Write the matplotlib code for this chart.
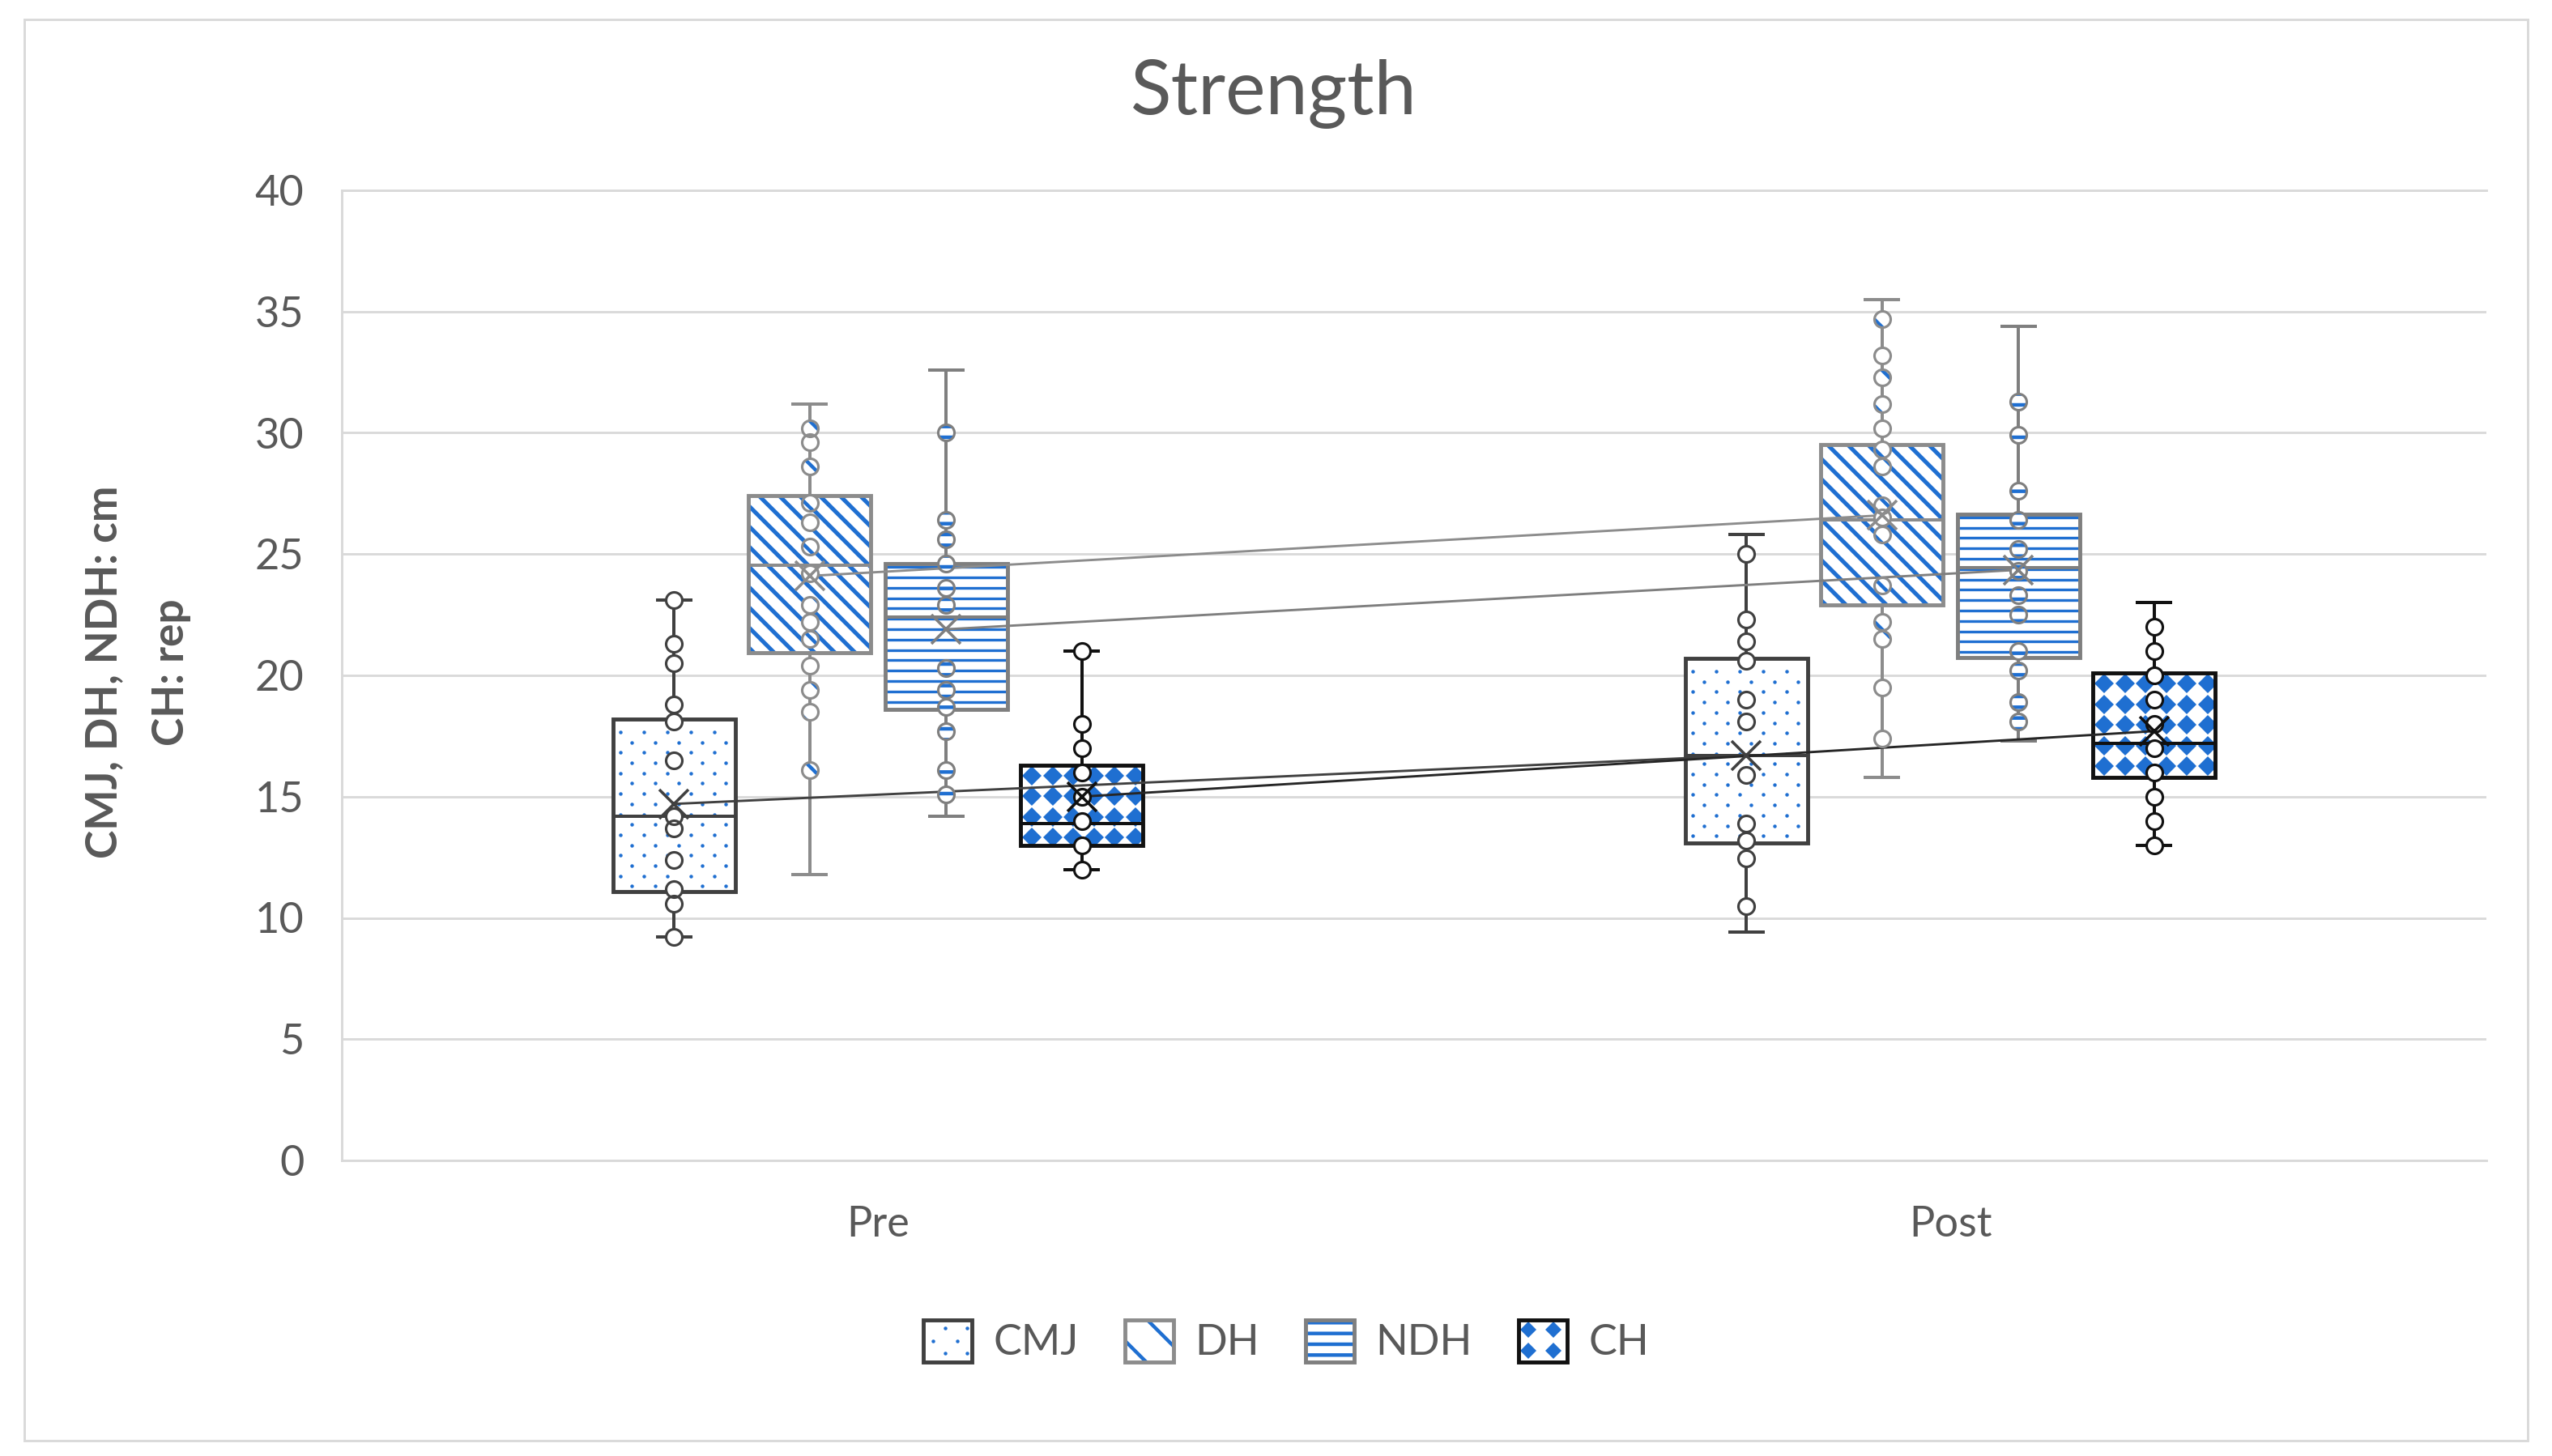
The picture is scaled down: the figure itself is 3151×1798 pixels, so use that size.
import numpy as np
import matplotlib
matplotlib.use("Agg")
import matplotlib.pyplot as plt
from matplotlib.patches import PathPatch, Rectangle, Patch
from matplotlib.lines import Line2D
from matplotlib.collections import LineCollection
from matplotlib.legend_handler import HandlerBase

plt.rcParams['font.family'] = ['Lato', 'DejaVu Sans']
plt.rcParams['hatch.linewidth'] = 2.0

# ---------------- data ----------------
categories = ['Pre', 'Post']
series_names = ['CMJ', 'DH', 'NDH', 'CH']

# box statistics, [Pre, Post]
cmj_whislo = [9.2, 9.4]
cmj_q1 = [11.1, 13.1]
cmj_med = [14.2, 16.7]
cmj_q3 = [18.2, 20.7]
cmj_whishi = [23.1, 25.8]
cmj_mean = [14.7, 16.7]

dh_whislo = [11.8, 15.8]
dh_q1 = [20.95, 22.9]
dh_med = [24.55, 26.4]
dh_q3 = [27.4, 29.5]
dh_whishi = [31.2, 35.5]
dh_mean = [24.1, 26.6]

ndh_whislo = [14.2, 17.3]
ndh_q1 = [18.6, 20.75]
ndh_med = [22.4, 24.45]
ndh_q3 = [24.6, 26.65]
ndh_whishi = [32.6, 34.4]
ndh_mean = [21.9, 24.35]

ch_whislo = [12.0, 13.0]
ch_q1 = [13.0, 15.8]
ch_med = [13.9, 17.2]
ch_q3 = [16.3, 20.1]
ch_whishi = [21.0, 23.0]
ch_mean = [15.0, 17.7]

# individual points (inner points)
cmj_pre_points = [23.1, 21.3, 20.5, 18.8, 18.1, 16.5, 14.2, 13.7, 12.4, 11.2, 10.6, 9.2]
cmj_post_points = [25.0, 22.3, 21.4, 20.6, 19.0, 18.1, 15.9, 13.9, 13.2, 12.45, 10.5]
dh_pre_points = [30.2, 29.6, 28.6, 27.1, 26.3, 25.3, 24.2, 22.9, 22.2, 21.5, 20.4, 19.4, 18.5, 16.1]
dh_post_points = [34.7, 33.2, 32.3, 31.2, 30.2, 29.3, 28.6, 27.0, 26.5, 25.8, 23.7, 22.2, 21.5, 19.5, 17.4]
ndh_pre_points = [30.0, 26.4, 25.6, 24.6, 23.6, 22.9, 20.3, 19.4, 18.7, 17.7, 16.1, 15.1]
ndh_post_points = [31.3, 29.9, 27.6, 26.4, 25.2, 24.3, 23.3, 22.5, 21.0, 20.2, 18.9, 18.1]
ch_pre_points = [21, 18, 17, 16, 15, 14, 13, 12]
ch_post_points = [22, 21, 20, 19, 18, 17, 16, 15, 14, 13]

yticks = [0, 5, 10, 15, 20, 25, 30, 35, 40]

SERIES = {
    'CMJ': dict(stats=(cmj_whislo, cmj_q1, cmj_med, cmj_q3, cmj_whishi, cmj_mean),
                points=(cmj_pre_points, cmj_post_points)),
    'DH': dict(stats=(dh_whislo, dh_q1, dh_med, dh_q3, dh_whishi, dh_mean),
               points=(dh_pre_points, dh_post_points)),
    'NDH': dict(stats=(ndh_whislo, ndh_q1, ndh_med, ndh_q3, ndh_whishi, ndh_mean),
                points=(ndh_pre_points, ndh_post_points)),
    'CH': dict(stats=(ch_whislo, ch_q1, ch_med, ch_q3, ch_whishi, ch_mean),
               points=(ch_pre_points, ch_post_points)),
}

# ---------------- style ----------------
BLUE = '#1F6FD1'
TXT = '#595959'
GRID = '#D9D9D9'
STYLE = {
    'CMJ': dict(edge='#404040', line='#404040', phatch=None,
                mtex=dict(dx=29, dy=12.7, stagger=True, marker='o', ms=2.0, xph=9, yph=16)),
    'DH': dict(edge='#8C8C8C', line='#8C8C8C', phatch='\\',
               ltex=dict(kind='d', spacing=25, lw=2.3, phase=6)),
    'NDH': dict(edge='#7F7F7F', line='#7F7F7F', phatch='--',
                ltex=dict(kind='h', spacing=12.8, lw=1.5, phase=4)),
    'CH': dict(edge='#111111', line='#262626', phatch=None,
               mtex=dict(dx=25.5, dy=25.5, stagger=False, marker='D', ms=7.6, xph=14, yph=13)),
}
OFFSETS = [-0.19, -0.0635, 0.0635, 0.19]
BOXW = 0.114
CAPW = 0.031
PT_MS = 9.0

DPI = 160
W_PX, H_PX = 3151, 1798
fig = plt.figure(figsize=(W_PX / DPI, H_PX / DPI), dpi=DPI)
L, R, T, Bt = 422, 3070, 235, 1433
ax = fig.add_axes([L / W_PX, 1 - Bt / H_PX, (R - L) / W_PX, (Bt - T) / H_PX])
ax.set_xlim(0.5, 2.5)
ax.set_ylim(0, 40)
ax.set_autoscale_on(False)


def box_extent_px(box):
    v = box.get_path().vertices
    lo = ax.transData.transform((v[:, 0].min(), v[:, 1].min()))
    hi = ax.transData.transform((v[:, 0].max(), v[:, 1].max()))
    return lo, hi


def marker_texture(box, dx, dy, stagger, marker, ms, xph, yph):
    lo, hi = box_extent_px(box)
    pts = []
    j = 0
    y = hi[1] - yph
    while y > lo[1] - dy:
        shift = dx / 2 if (stagger and j % 2) else 0.0
        x = lo[0] + xph + shift - dx
        while x < hi[0] + dx:
            pts.append((x, y))
            x += dx
        y -= dy
        j += 1
    d = ax.transData.inverted().transform(np.array(pts))
    ln, = ax.plot(d[:, 0], d[:, 1], ls='none', marker=marker, ms=ms, mew=0,
                  color=BLUE, zorder=2.05)
    ln.set_clip_path(box)


def line_texture(box, kind, spacing, lw, phase):
    lo, hi = box_extent_px(box)
    segs = []
    if kind == 'h':
        y = hi[1] - phase
        while y > lo[1]:
            segs.append([(lo[0] - 5, y), (hi[0] + 5, y)])
            y -= spacing
    else:  # backslash stripes: x + y = c
        hgt = hi[1] - lo[1]
        c = lo[0] + lo[1] + phase
        while c < hi[0] + hi[1] + spacing:
            x0 = lo[0] - hgt - 50
            x1 = hi[0] + hgt + 50
            segs.append([(x0, c - x0), (x1, c - x1)])
            c += spacing
    inv = ax.transData.inverted()
    segs_d = [inv.transform(np.array(s)) for s in segs]
    lc = LineCollection(segs_d, colors=BLUE, linewidths=lw, zorder=2.05,
                        capstyle='butt')
    ax.add_collection(lc, autolim=False)
    lc.set_clip_path(box)


for i, name in enumerate(series_names):
    st = STYLE[name]
    wl, q1, md, q3, wh, mn = SERIES[name]['stats']
    pos = [1 + OFFSETS[i], 2 + OFFSETS[i]]
    stats = [dict(whislo=wl[k], q1=q1[k], med=md[k], q3=q3[k], whishi=wh[k],
                  mean=mn[k], fliers=[], label=categories[k]) for k in range(2)]
    res = ax.bxp(stats, positions=pos, widths=BOXW, capwidths=CAPW,
                 patch_artist=True, showfliers=False, showmeans=False,
                 manage_ticks=False, zorder=2,
                 boxprops=dict(facecolor='white', edgecolor='none', linewidth=0),
                 whiskerprops=dict(color=st['edge'], linewidth=1.8),
                 capprops=dict(color=st['edge'], linewidth=1.8),
                 medianprops=dict(color=st['edge'], linewidth=1.8))
    for b in res['boxes']:
        outline = PathPatch(b.get_path(), transform=b.get_transform(), fill=False,
                            edgecolor=st['edge'], linewidth=2.2, zorder=2.2,
                            joinstyle='miter')
        ax.add_patch(outline)
        if st.get('mtex'):
            marker_texture(b, **st['mtex'])
        if st.get('ltex'):
            line_texture(b, **st['ltex'])

    # mean connecting line
    ax.plot(pos, mn, color=st['line'], linewidth=1.3, zorder=4)

    # inner points
    for k in range(2):
        p = SERIES[name]['points'][k]
        xs = np.full(len(p), pos[k])
        if st['phatch']:
            ax.scatter(xs, p, s=PT_MS ** 2, marker='o', facecolors='white',
                       edgecolors=BLUE, linewidths=0, hatch=st['phatch'], zorder=5)
        else:
            ax.scatter(xs, p, s=PT_MS ** 2, marker='o', facecolors='white',
                       linewidths=0, zorder=5)
        ax.plot(xs, p, ls='none', marker='o', ms=PT_MS, mfc='none',
                mec=st['edge'], mew=1.4, zorder=5.1)

    # mean markers
    ax.plot(pos, mn, ls='none', marker='x', ms=16, mew=1.6, color=st['edge'], zorder=6)

# ---------------- axes styling ----------------
ax.set_yticks(yticks)
ax.set_xticks([1, 2])
ax.set_xticklabels(categories)
ax.yaxis.grid(True, color=GRID, linewidth=1.3)
ax.set_axisbelow(True)
ax.spines['right'].set_visible(False)
for s in ['left', 'bottom', 'top']:
    ax.spines[s].set_color(GRID)
    ax.spines[s].set_linewidth(1.3)
ax.tick_params(axis='both', length=0, labelsize=23.5, labelcolor=TXT)
ax.tick_params(axis='y', pad=21)
ax.tick_params(axis='x', pad=25)

# y label (two lines)
fig.text(170 / W_PX, 1 - 830 / H_PX, 'CMJ, DH, NDH: cm\nCH: rep', rotation=90,
         ha='center', va='center', multialignment='center', fontsize=24,
         fontweight='bold', color=TXT, linespacing=1.85)

# title
fig.text(1573 / W_PX, 1 - 116 / H_PX, 'Strength', ha='center', va='center',
         fontsize=42, color=TXT)

# chart border
fig.add_artist(Rectangle((30 / W_PX, 1 - 1779 / H_PX), (3121 - 30) / W_PX,
                         (1779 - 24) / H_PX, transform=fig.transFigure, fill=False,
                         edgecolor=GRID, linewidth=1.3))


# ---------------- legend ----------------
class BoxHandler(HandlerBase):
    def __init__(self, edge, hatch=None, marks=None, marker=None, ms=None):
        super().__init__()
        self.edge, self.hatch = edge, hatch
        self.marks, self.marker, self.ms = marks, marker, ms

    def create_artists(self, legend, orig_handle, xdescent, ydescent, width, height,
                       fontsize, trans):
        x0, y0 = -xdescent, -ydescent
        arts = []
        fill = Rectangle((x0, y0), width, height, facecolor='white',
                         edgecolor=BLUE, linewidth=0, hatch=self.hatch,
                         transform=trans)
        arts.append(fill)
        if self.marks:
            xs = [x0 + fx * width for fx, fy in self.marks]
            ys = [y0 + fy * height for fx, fy in self.marks]
            arts.append(Line2D(xs, ys, ls='none', marker=self.marker, ms=self.ms,
                               mew=0, color=BLUE, transform=trans))
        arts.append(Rectangle((x0, y0), width, height, fill=False,
                              edgecolor=self.edge, linewidth=2.2, transform=trans))
        return arts


proxies = [Patch(label=n) for n in series_names]
handlers = {
    proxies[0]: BoxHandler(STYLE['CMJ']['edge'],
                           marks=[(0.45, 0.8), (0.9, 0.8), (0.2, 0.5), (0.7, 0.5),
                                  (0.45, 0.2), (0.9, 0.2)], marker='o', ms=2.0),
    proxies[1]: BoxHandler(STYLE['DH']['edge'], hatch='\\'),
    proxies[2]: BoxHandler(STYLE['NDH']['edge'], hatch='--'),
    proxies[3]: BoxHandler(STYLE['CH']['edge'],
                           marks=[(0.2, 0.76), (0.72, 0.76), (0.2, 0.26), (0.72, 0.26)],
                           marker='D', ms=6.5),
}
fig.legend(handles=proxies, labels=series_names, handler_map=handlers,
           loc='center', bbox_to_anchor=(1588 / W_PX, 1 - 1656 / H_PX), ncol=4,
           frameon=False, fontsize=23.5, handlelength=1.15, handleheight=1.15,
           handletextpad=0.5, columnspacing=1.1, labelcolor=TXT)

fig.savefig('out.png', dpi=DPI)
